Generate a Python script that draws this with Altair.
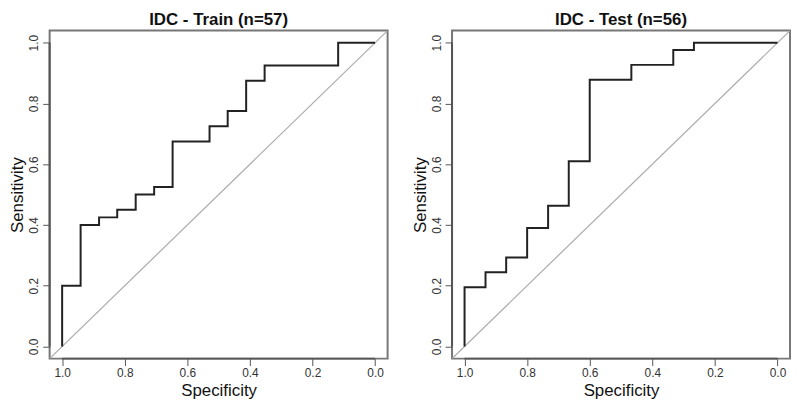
import altair as alt
import pandas as pd

# ROC step vertices (specificity, sensitivity)
train_spec = [1.0, 1.0, 0.941, 0.882, 0.824, 0.765, 0.706, 0.647, 0.529, 0.471, 0.412, 0.353, 0.118, 0.0]
train_sens = [0.0, 0.2, 0.4, 0.425, 0.45, 0.5, 0.525, 0.675, 0.725, 0.775, 0.875, 0.925, 1.0, 1.0]

test_spec = [1.0, 1.0, 0.933, 0.867, 0.8, 0.733, 0.667, 0.6, 0.467, 0.333, 0.267, 0.0]
test_sens = [0.0, 0.195, 0.244, 0.293, 0.39, 0.463, 0.61, 0.878, 0.927, 0.976, 1.0, 1.0]

titles = ["IDC - Train (n=57)", "IDC - Test (n=56)"]
tick_values = [0.0, 0.2, 0.4, 0.6, 0.8, 1.0]
lo, hi = -0.04, 1.04

FONT = "Liberation Sans"
W, H = 341, 331


def panel(spec, sens, title):
    df = pd.DataFrame({"spec": spec, "sens": sens, "order": list(range(len(spec)))})
    xs = alt.Scale(domain=[lo, hi], reverse=True, nice=False, zero=False)
    ys = alt.Scale(domain=[lo, hi], nice=False, zero=False)
    xaxis = alt.Axis(values=tick_values, format=".1f", title="Specificity", grid=False,
                     domain=False, tickSize=7, tickColor="#555", tickWidth=1,
                     labelPadding=2, labelFontSize=12, labelColor="#333", labelFont=FONT,
                     titleFont=FONT, titleFontSize=17, titleFontWeight="normal",
                     titleColor="#111", titlePadding=4)
    yaxis = alt.Axis(values=tick_values, format=".1f", title="Sensitivity", grid=False,
                     domain=False, tickSize=7, tickColor="#555", tickWidth=1,
                     labelAngle=270, labelAlign="center", labelBaseline="bottom",
                     labelPadding=2, labelFontSize=12, labelColor="#333", labelFont=FONT,
                     titleFont=FONT, titleFontSize=17, titleFontWeight="normal",
                     titleColor="#111", titlePadding=1)

    diag = pd.DataFrame({"spec": [hi, lo], "sens": [1 - hi, 1 - lo]})
    diag_layer = alt.Chart(diag).mark_line(color="#aaaaaa", strokeWidth=1.2, clip=True).encode(
        x=alt.X("spec:Q", scale=xs, axis=xaxis),
        y=alt.Y("sens:Q", scale=ys, axis=yaxis),
    )
    roc = alt.Chart(df).mark_line(color="#222222", strokeWidth=2, interpolate="step-after").encode(
        x=alt.X("spec:Q", scale=xs),
        y=alt.Y("sens:Q", scale=ys),
        order="order:Q",
    )
    xline = alt.Chart(pd.DataFrame({"a": [1.0], "b": [0.0], "c": [lo]})).mark_rule(
        color="#555555", strokeWidth=2).encode(
        x=alt.X("a:Q", scale=xs), x2="b:Q", y=alt.Y("c:Q", scale=ys))
    yline = alt.Chart(pd.DataFrame({"a": [0.0], "b": [1.0], "c": [hi]})).mark_rule(
        color="#555555", strokeWidth=2).encode(
        y=alt.Y("a:Q", scale=ys), y2="b:Q", x=alt.X("c:Q", scale=xs))
    return alt.layer(diag_layer, roc, xline, yline).properties(
        width=W, height=H,
        view=alt.ViewBackground(stroke="#777777", strokeWidth=2),
        title=alt.TitleParams(title, font=FONT, fontSize=17, fontWeight="bold",
                              color="#111", anchor="middle", offset=2),
    )


chart = alt.hconcat(
    panel(train_spec, train_sens, titles[0]),
    panel(test_spec, test_sens, titles[1]),
    spacing=22,
).properties(padding=0).configure(background="white")

chart.save("out.html", embed_options={"renderer": "svg", "actions": False})
